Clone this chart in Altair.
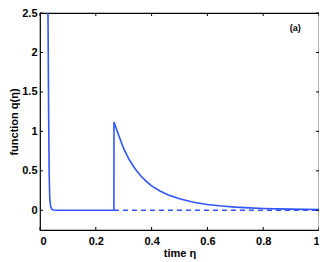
import altair as alt
import pandas as pd

# curve
eta = [0.0270, 0.0290, 0.0310, 0.0330, 0.0350, 0.0380, 0.0420, 0.0480, 0.0600,
       0.1000, 0.1500, 0.2000, 0.2650, 0.2651, 0.2800, 0.3000, 0.3200, 0.3400,
       0.3600, 0.3800, 0.4000, 0.4300, 0.4600, 0.5000, 0.5500, 0.6000, 0.6500,
       0.7000, 0.7500, 0.8000, 0.8500, 0.9000, 0.9500, 1.0000]
q = [3.20, 2.30, 1.20, 0.45, 0.15, 0.05, 0.015, 0.004, 0.0,
     0.0, 0.0, 0.0, 0.0, 1.12, 0.97, 0.78, 0.64, 0.53,
     0.44, 0.37, 0.31, 0.245, 0.195, 0.145, 0.102, 0.074, 0.054,
     0.040, 0.030, 0.023, 0.018, 0.014, 0.011, 0.009]
dash_eta = [0.265, 1.0]
dash_q = [0.0, 0.0]
x_ticks = [0, 0.2, 0.4, 0.6, 0.8, 1.0]
y_ticks = [0, 0.5, 1.0, 1.5, 2.0, 2.5]

W, H = 279, 217
BLUE = "#3355ff"
FONT = "Liberation Sans"

df = pd.DataFrame({"eta": eta, "q": q, "i": range(len(eta))})
dd = pd.DataFrame({"eta": dash_eta, "q": dash_q})
xt = pd.DataFrame({"v": x_ticks})
yt = pd.DataFrame({"v": y_ticks})

xs = alt.Scale(domain=[0, 1], nice=False)
ys = alt.Scale(domain=[-0.25, 2.5], nice=False)

xax = alt.Axis(values=x_ticks, labelExpr="datum.value == 0 || datum.value == 1 ? format(datum.value, 'd') : format(datum.value, '.1f')",
               tickSize=0, domain=False, grid=False, labelPadding=5,
               title="time η", titlePadding=1)
yax = alt.Axis(values=y_ticks, labelExpr="datum.value == 0 || datum.value == 1 || datum.value == 2 ? format(datum.value, 'd') : format(datum.value, '.1f')",
               tickSize=0, domain=False, grid=False, labelPadding=3,
               title="function q(η)", titlePadding=2)

line = alt.Chart(df).mark_line(color=BLUE, strokeWidth=1.6, clip=True).encode(
    x=alt.X("eta:Q", scale=xs, axis=xax),
    y=alt.Y("q:Q", scale=ys, axis=yax),
    order="i:Q",
)
dash = alt.Chart(dd).mark_line(color=BLUE, strokeWidth=1.6, strokeDash=[5, 4]).encode(
    x=alt.X("eta:Q", scale=xs), y=alt.Y("q:Q", scale=ys)
)
tb = alt.Chart(xt).mark_rule(color="black", strokeWidth=1).encode(
    x=alt.X("v:Q", scale=xs), y=alt.value(H), y2=alt.value(H - 3))
tt = alt.Chart(xt).mark_rule(color="black", strokeWidth=1).encode(
    x=alt.X("v:Q", scale=xs), y=alt.value(0), y2=alt.value(3))
tl = alt.Chart(yt).mark_rule(color="black", strokeWidth=1).encode(
    y=alt.Y("v:Q", scale=ys), x=alt.value(0), x2=alt.value(3))
tr = alt.Chart(yt).mark_rule(color="black", strokeWidth=1).encode(
    y=alt.Y("v:Q", scale=ys), x=alt.value(W), x2=alt.value(W - 3))
lab = alt.Chart(pd.DataFrame({"t": ["(a)"], "x": [0.915], "y": [2.31]})).mark_text(
    font=FONT, fontSize=9, fontWeight="bold", color="black").encode(
    x=alt.X("x:Q", scale=xs), y=alt.Y("y:Q", scale=ys), text="t:N")

chart = alt.layer(line, dash, tb, tt, tl, tr, lab).properties(
    width=W, height=H,
    autosize=alt.AutoSizeParams(type="none"),
    padding={"left": 32, "top": 5, "right": 0, "bottom": 30},
).configure_view(stroke="black", strokeWidth=1.2).configure_axis(
    labelFont=FONT, labelFontSize=11, labelFontWeight="bold", labelColor="black",
    titleFont=FONT, titleFontSize=11, titleFontWeight="bold", titleColor="black",
)

chart.save("out.html", embed_options={"renderer": "svg", "actions": False})
